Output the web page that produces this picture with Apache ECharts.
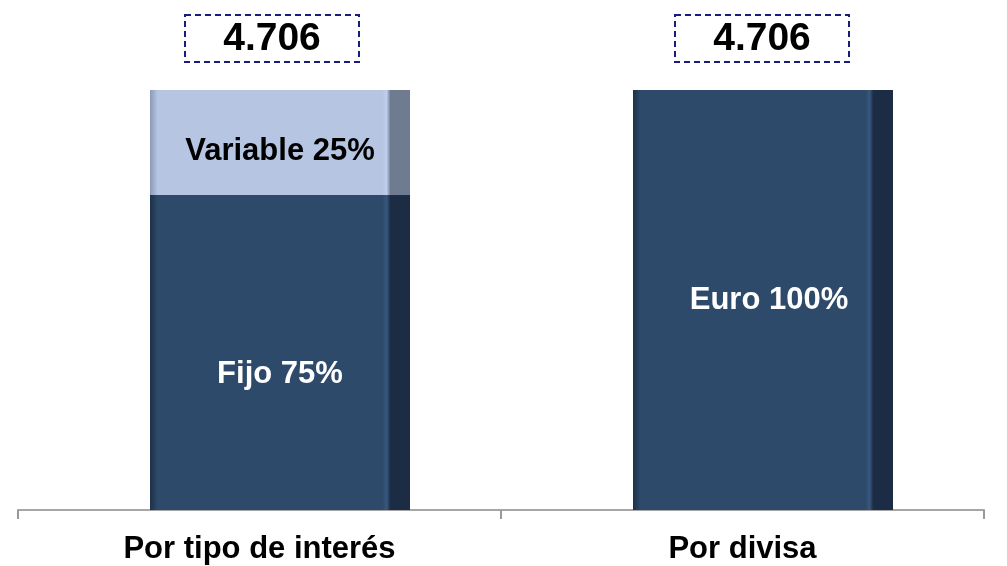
<!DOCTYPE html>
<html>
<head>
<meta charset="utf-8">
<script src="https://cdn.jsdelivr.net/npm/echarts@6/dist/echarts.min.js"></script>
<style>html,body{margin:0;padding:0;background:#fff;}#c{width:1007px;height:566px;}</style>
</head>
<body>
<div id="c"></div>
<script>
const categories = ['Por tipo de interés', 'Por divisa'];
const darkValues = [75, 100];
const darkNames = ['Fijo', 'Euro'];
const lightValues = [25, 0];
const lightNames = ['Variable', ''];
const totals = ['4.706', '4.706'];

const chart = echarts.init(document.getElementById('c'));

function grad(edge, main, hi, side) {
  return new echarts.graphic.LinearGradient(0, 0, 1, 0, [
    {offset: 0, color: edge},
    {offset: 0.03, color: main},
    {offset: 0.895, color: main},
    {offset: 0.91, color: hi},
    {offset: 0.925, color: side},
    {offset: 1, color: side}
  ]);
}
const darkColor = grad('#1d3048', '#2e4a6b', '#37577e', '#1c2c44');
const lightColor = grad('#8a9ab8', '#b5c5e2', '#c0d0ec', '#6f7b90');

const darkOffsets = [[0, 22], [6, 0]];

chart.setOption({
  animation: false,
  grid: [
    {left: 18, right: 23, top: 90, bottom: 56},
    {left: 38.5, right: 2.5, top: 90, bottom: 56}
  ],
  xAxis: [
    {
      gridIndex: 0, type: 'category', data: categories,
      axisLine: {show: true, lineStyle: {color: '#a6a6a6', width: 2}},
      axisTick: {show: true, length: 9, lineStyle: {color: '#999', width: 2}},
      axisLabel: {
        margin: 24, color: '#000', fontSize: 31, fontWeight: 'bold',
        fontFamily: "'Liberation Sans Narrow', 'Arial Narrow', 'Liberation Sans', sans-serif"
      }
    },
    {gridIndex: 1, type: 'category', data: categories, show: false}
  ],
  yAxis: [
    {gridIndex: 0, type: 'value', min: 0, max: 100, show: false},
    {gridIndex: 1, type: 'value', min: 0, max: 100, show: false}
  ],
  series: [
    {
      name: 'dark', type: 'bar', stack: 's', xAxisIndex: 1, yAxisIndex: 1,
      barWidth: 260,
      itemStyle: {color: darkColor},
      data: darkValues.map((v, i) => ({
        value: v,
        label: {
          show: true, position: 'inside', offset: darkOffsets[i],
          formatter: darkNames[i] + ' ' + v + '%',
          color: '#fff', fontSize: 31, fontWeight: 'bold',
          fontFamily: "'Liberation Sans', Arial, sans-serif"
        }
      }))
    },
    {
      name: 'light', type: 'bar', stack: 's', xAxisIndex: 1, yAxisIndex: 1,
      barWidth: 260,
      itemStyle: {color: lightColor},
      data: lightValues.map((v, i) => ({
        value: v,
        label: {
          show: v > 0, position: 'inside', offset: [0, 9],
          formatter: lightNames[i] + ' ' + v + '%',
          color: '#000', fontSize: 31, fontWeight: 'bold',
          fontFamily: "'Liberation Sans', Arial, sans-serif"
        }
      }))
    },
    {
      name: 'total', type: 'bar', stack: 's', xAxisIndex: 1, yAxisIndex: 1,
      barWidth: 260,
      itemStyle: {color: 'transparent'},
      data: totals.map((t, i) => ({
        value: 0,
        label: {
          show: true, position: 'top', distance: 28,
          offset: [i === 0 ? -8 : -1, 0],
          formatter: t,
          color: '#000', fontSize: 39, fontWeight: 'bold', lineHeight: 40,
          fontFamily: "'Liberation Sans', Arial, sans-serif",
          width: 174, align: 'center',
          padding: [4, 0, 3, 0],
          borderColor: '#1a1a80', borderWidth: 2, borderType: [6, 4]
        }
      }))
    }
  ]
});
</script>
</body>
</html>
